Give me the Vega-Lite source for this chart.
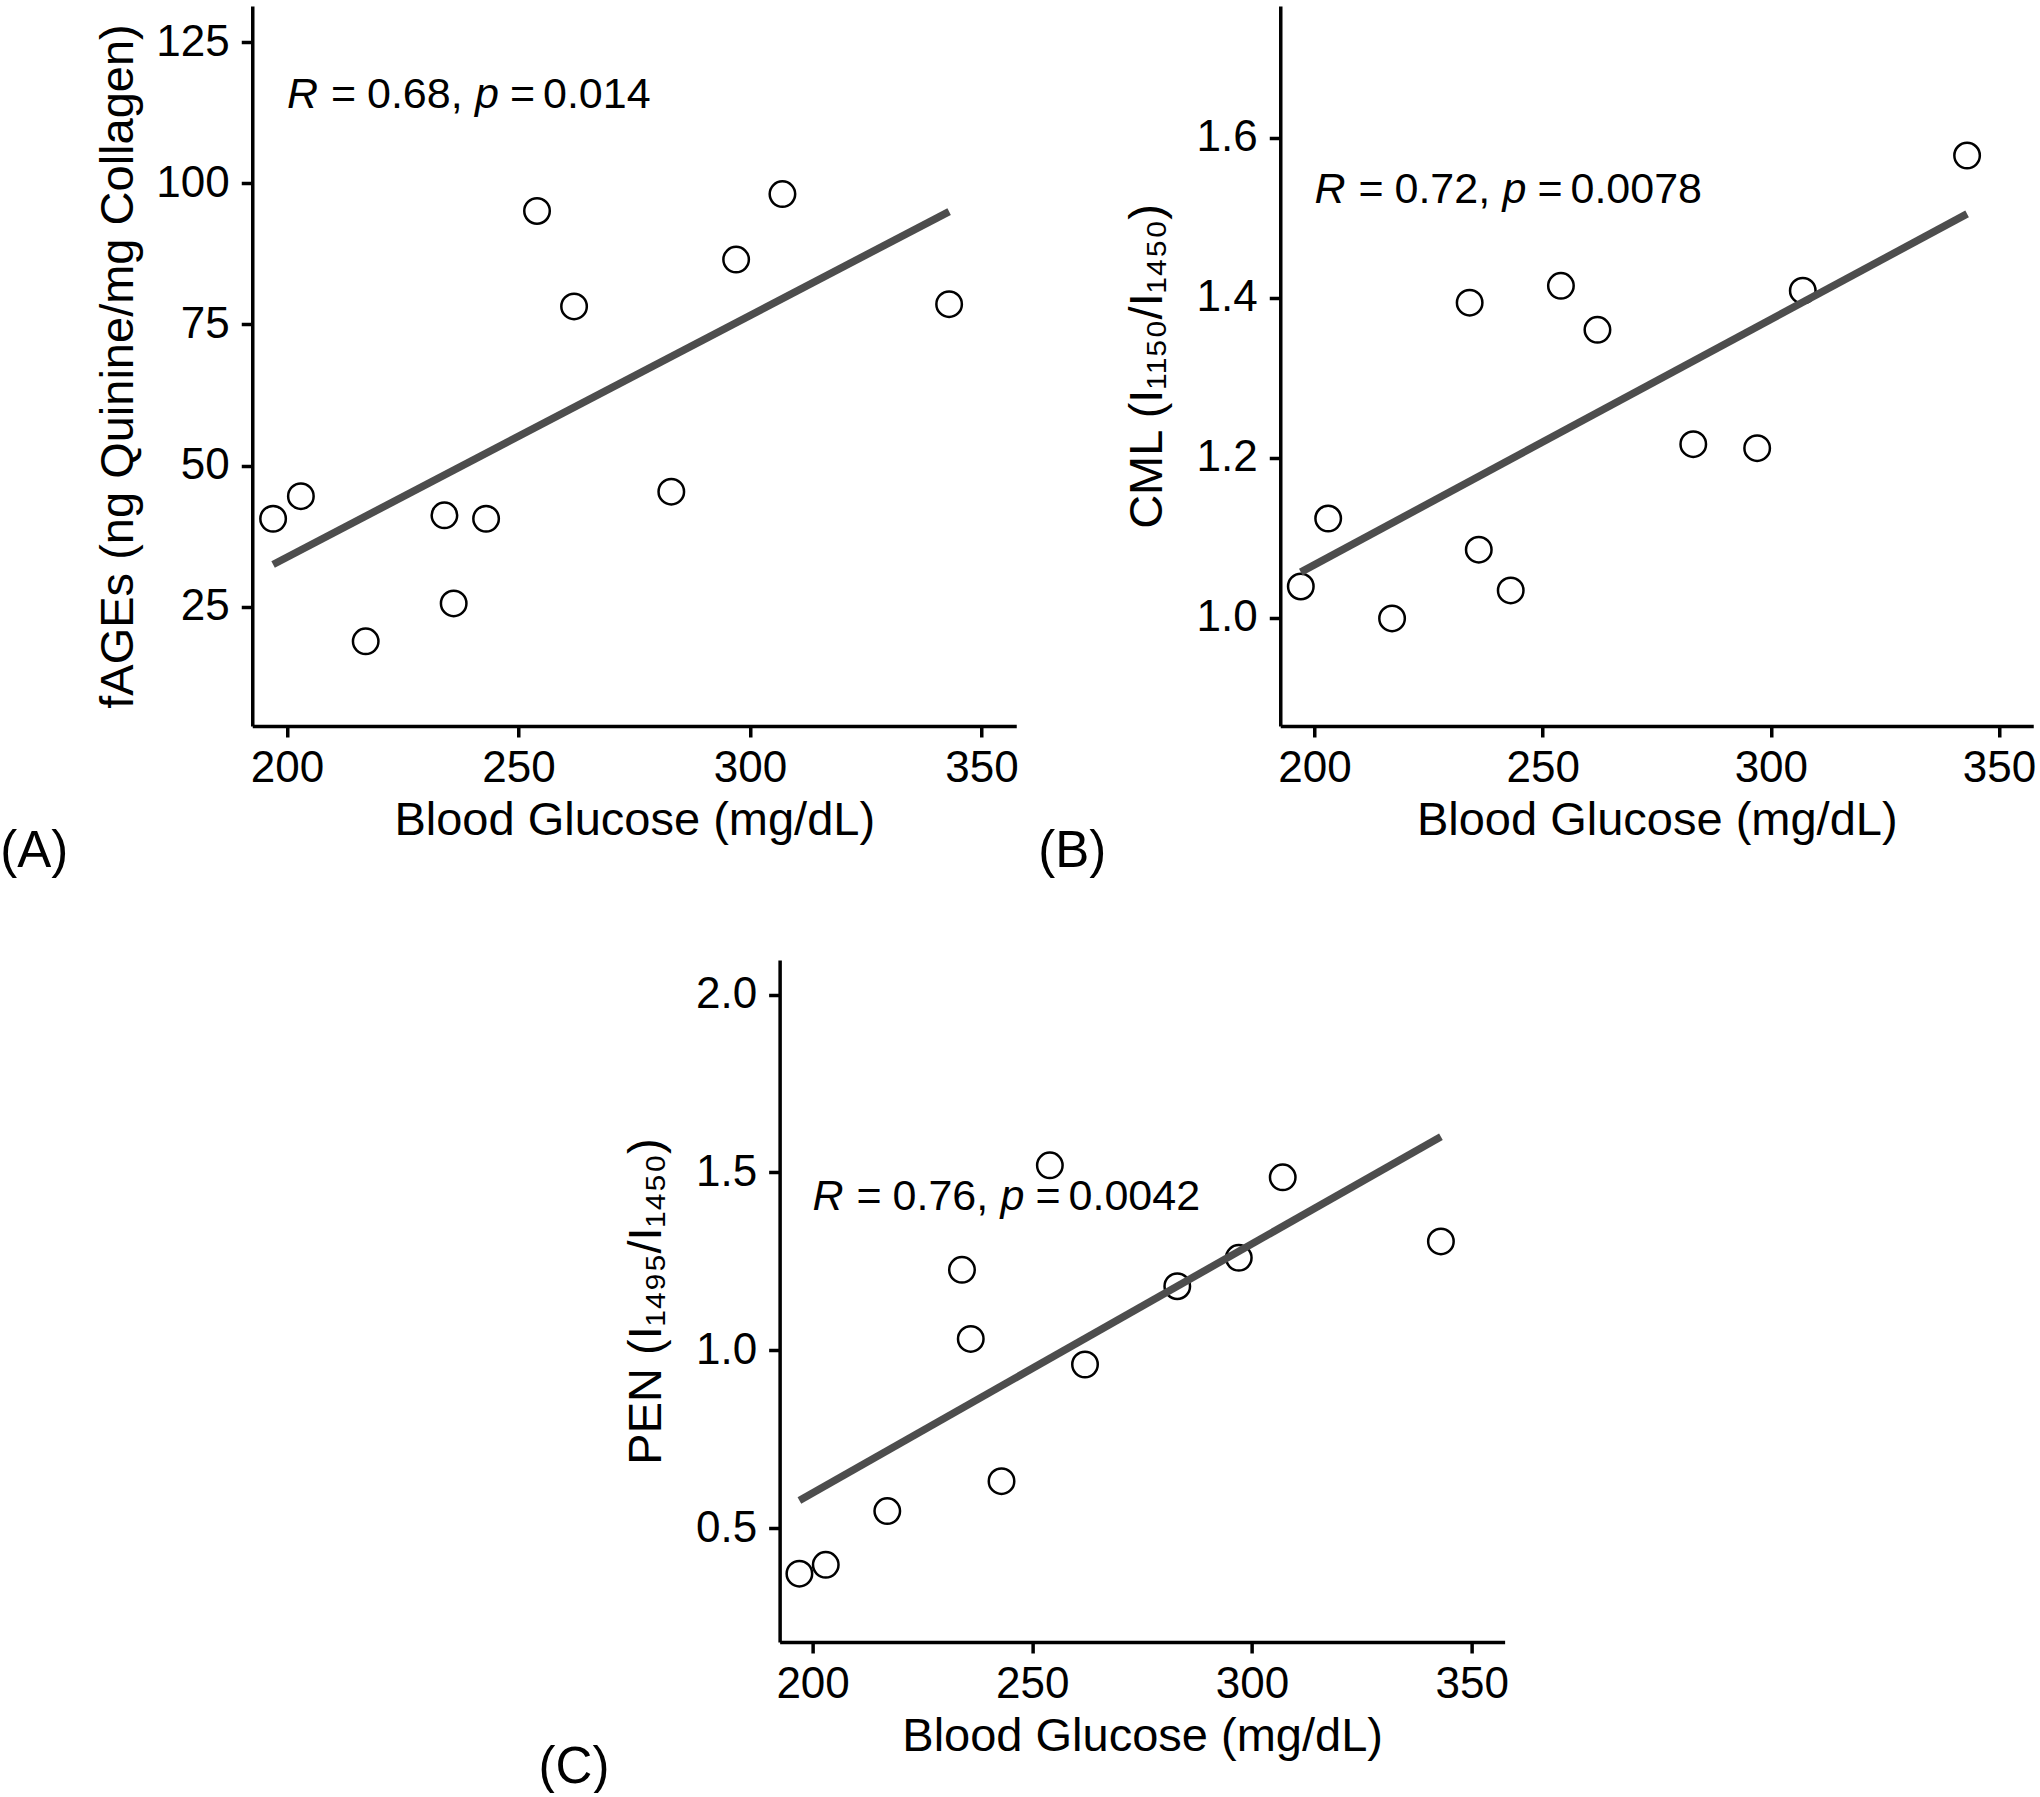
{
  "$schema": "https://vega.github.io/schema/vega-lite/v6.json",
  "background": "white",
  "padding": {"left": 0, "top": 6, "right": 0, "bottom": 0},
  "config": {
    "font": "Liberation Sans, Arial, Helvetica, DejaVu Sans, sans-serif",
    "view": {"stroke": null},
    "axis": {
      "grid": false,
      "domainColor": "black",
      "domainWidth": 3.5,
      "tickColor": "black",
      "tickWidth": 3.5,
      "tickSize": 11,
      "labelFontSize": 44,
      "labelColor": "black",
      "labelFlush": false,
      "labelOverlap": false,
      "titleFontSize": 47,
      "titleFontWeight": "normal",
      "titleColor": "black"
    },
    "axisX": {"labelPadding": 9, "titlePadding": 7},
    "axisY": {"labelPadding": 12, "titleBaseline": "alphabetic"},
    "title": {"orient": "bottom", "anchor": "start", "frame": "group", "fontSize": 51, "fontWeight": "normal", "color": "black", "offset": 0},
    "text": {"fontSize": 43, "align": "left", "baseline": "alphabetic", "color": "black"}
  },
  "datasets": {
    "pts": [
      {"glucose": 197, "fAGEs": 40.6, "CML": 1.039, "PEN": 0.372},
      {"glucose": 203, "fAGEs": 44.6, "CML": 1.124, "PEN": 0.397},
      {"glucose": 217, "fAGEs": 18.9, "CML": 0.999, "PEN": 0.548},
      {"glucose": 234, "fAGEs": 41.2, "CML": 1.394, "PEN": 1.226},
      {"glucose": 236, "fAGEs": 25.6, "CML": 1.085, "PEN": 1.032},
      {"glucose": 243, "fAGEs": 40.6, "CML": 1.034, "PEN": 0.632},
      {"glucose": 254, "fAGEs": 95.1, "CML": 1.415, "PEN": 1.520},
      {"glucose": 262, "fAGEs": 78.2, "CML": 1.360, "PEN": 0.960},
      {"glucose": 283, "fAGEs": 45.4, "CML": 1.217, "PEN": 1.180},
      {"glucose": 297, "fAGEs": 86.5, "CML": 1.212, "PEN": 1.260},
      {"glucose": 307, "fAGEs": 98.1, "CML": 1.409, "PEN": 1.486},
      {"glucose": 343, "fAGEs": 78.6, "CML": 1.578, "PEN": 1.306}
    ],
    "fit": [
      {"glucose": 197, "fAGEs": 32.5, "CML": 1.057, "PEN": 0.578},
      {"glucose": 343, "fAGEs": 95.0, "CML": 1.505, "PEN": 1.600}
    ],
    "ann": [
      {"panel": "A", "glucose": 200, "fAGEs": 113.4, "r": "0.68,", "p": "0.014"},
      {"panel": "B", "glucose": 200, "CML": 1.519, "r": "0.72,", "p": "0.0078"},
      {"panel": "C", "glucose": 200, "PEN": 1.395, "r": "0.76,", "p": "0.0042"}
    ]
  },
  "spacing": 83,
  "center": true,
  "vconcat": [
    {
      "spacing": 20,
      "hconcat": [
        {
          "width": 764,
          "height": 720,
          "title": {"text": "(A)", "dx": -252, "dy": -20},
          "layer": [
            {
              "data": {"name": "pts"},
              "mark": {"type": "point", "shape": "circle", "filled": false, "color": "black", "strokeWidth": 2.5, "size": 650, "opacity": 1},
              "encoding": {
                "x": {"field": "glucose", "type": "quantitative", "scale": {"domain": [192.5, 357.5], "nice": false, "zero": false}, "axis": {"values": [200, 250, 300, 350], "title": "Blood Glucose (mg/dL)"}},
                "y": {"field": "fAGEs", "type": "quantitative", "scale": {"domain": [3.9, 131.4], "nice": false, "zero": false}, "axis": {"values": [25, 50, 75, 100, 125], "title": "fAGEs (ng Quinine/mg Collagen)", "titlePadding": 23}}
              }
            },
            {
              "data": {"name": "fit"},
              "mark": {"type": "line", "color": "#4d4d4d", "strokeWidth": 7.5},
              "encoding": {
                "x": {"field": "glucose", "type": "quantitative"},
                "y": {"field": "fAGEs", "type": "quantitative"}
              }
            },
            {
              "data": {"name": "ann"},
              "transform": [{"filter": "datum.panel === 'A'"}],
              "encoding": {
                "x": {"field": "glucose", "type": "quantitative"},
                "y": {"field": "fAGEs", "type": "quantitative"}
              },
              "layer": [
                {"mark": {"type": "text", "text": "R", "fontStyle": "italic"}},
                {"mark": {"type": "text", "text": "=", "dx": 44}},
                {"mark": {"type": "text", "dx": 80}, "encoding": {"text": {"field": "r"}}},
                {"mark": {"type": "text", "text": "p", "fontStyle": "italic", "dx": 188}},
                {"mark": {"type": "text", "text": "=", "dx": 223}},
                {"mark": {"type": "text", "dx": 256}, "encoding": {"text": {"field": "p"}}}
              ]
            }
          ]
        },
        {
          "width": 753,
          "height": 720,
          "title": {"text": "(B)", "dx": -242, "dy": -20},
          "layer": [
            {
              "data": {"name": "pts"},
              "mark": {"type": "point", "shape": "circle", "filled": false, "color": "black", "strokeWidth": 2.5, "size": 650, "opacity": 1},
              "encoding": {
                "x": {"field": "glucose", "type": "quantitative", "scale": {"domain": [192.5, 357.5], "nice": false, "zero": false}, "axis": {"values": [200, 250, 300, 350], "title": "Blood Glucose (mg/dL)"}},
                "y": {"field": "CML", "type": "quantitative", "scale": {"domain": [0.8645, 1.765], "nice": false, "zero": false}, "axis": {"values": [1.0, 1.2, 1.4, 1.6], "format": ".1f", "title": "CML (I₁₁₅₀/I₁₄₅₀)", "titlePadding": 35}}
              }
            },
            {
              "data": {"name": "fit"},
              "mark": {"type": "line", "color": "#4d4d4d", "strokeWidth": 7.5},
              "encoding": {
                "x": {"field": "glucose", "type": "quantitative"},
                "y": {"field": "CML", "type": "quantitative"}
              }
            },
            {
              "data": {"name": "ann"},
              "transform": [{"filter": "datum.panel === 'B'"}],
              "encoding": {
                "x": {"field": "glucose", "type": "quantitative"},
                "y": {"field": "CML", "type": "quantitative"}
              },
              "layer": [
                {"mark": {"type": "text", "text": "R", "fontStyle": "italic"}},
                {"mark": {"type": "text", "text": "=", "dx": 44}},
                {"mark": {"type": "text", "dx": 80}, "encoding": {"text": {"field": "r"}}},
                {"mark": {"type": "text", "text": "p", "fontStyle": "italic", "dx": 188}},
                {"mark": {"type": "text", "text": "=", "dx": 223}},
                {"mark": {"type": "text", "dx": 256}, "encoding": {"text": {"field": "p"}}}
              ]
            }
          ]
        }
      ]
    },
    {
      "width": 725,
      "height": 682,
      "title": {"text": "(C)", "dx": -241, "dy": -20},
      "layer": [
        {
          "data": {"name": "pts"},
          "mark": {"type": "point", "shape": "circle", "filled": false, "color": "black", "strokeWidth": 2.5, "size": 650, "opacity": 1},
          "encoding": {
            "x": {"field": "glucose", "type": "quantitative", "scale": {"domain": [192.5, 357.5], "nice": false, "zero": false}, "axis": {"values": [200, 250, 300, 350], "title": "Blood Glucose (mg/dL)"}},
            "y": {"field": "PEN", "type": "quantitative", "scale": {"domain": [0.18, 2.097], "nice": false, "zero": false}, "axis": {"values": [0.5, 1.0, 1.5, 2.0], "format": ".1f", "title": "PEN (I₁₄₉₅/I₁₄₅₀)", "titlePadding": 35}}
          }
        },
        {
          "data": {"name": "fit"},
          "mark": {"type": "line", "color": "#4d4d4d", "strokeWidth": 7.5},
          "encoding": {
            "x": {"field": "glucose", "type": "quantitative"},
            "y": {"field": "PEN", "type": "quantitative"}
          }
        },
        {
          "data": {"name": "ann"},
          "transform": [{"filter": "datum.panel === 'C'"}],
          "encoding": {
            "x": {"field": "glucose", "type": "quantitative"},
            "y": {"field": "PEN", "type": "quantitative"}
          },
          "layer": [
            {"mark": {"type": "text", "text": "R", "fontStyle": "italic"}},
            {"mark": {"type": "text", "text": "=", "dx": 44}},
            {"mark": {"type": "text", "dx": 80}, "encoding": {"text": {"field": "r"}}},
            {"mark": {"type": "text", "text": "p", "fontStyle": "italic", "dx": 188}},
            {"mark": {"type": "text", "text": "=", "dx": 223}},
            {"mark": {"type": "text", "dx": 256}, "encoding": {"text": {"field": "p"}}}
          ]
        }
      ]
    }
  ]
}
